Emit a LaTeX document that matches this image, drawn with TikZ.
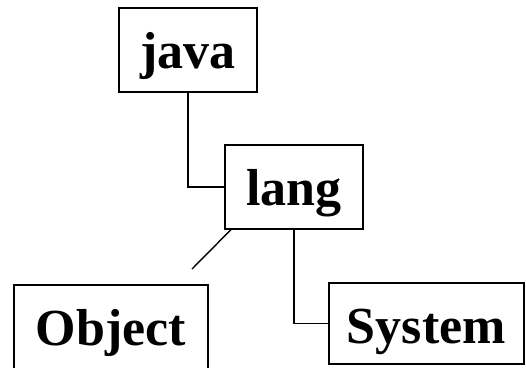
\documentclass[tikz,border=0pt]{standalone}
\usepackage{fontspec}
\setmainfont{Liberation Serif}
\begin{document}
\begin{tikzpicture}[x=1pt,y=-1pt,
  pkg/.style={draw=black, line width=1.6pt, anchor=north west, inner sep=0pt,
    text height=61pt, text depth=23pt, align=center,
    font=\bfseries\fontsize{52}{62}\selectfont},
  link/.style={draw=black, line width=1.4pt}]
  \clip (0,0) rectangle (526,367);
  \fill[white] (0,0) rectangle (526,367);
  % package boxes
  \node[pkg, minimum width=138pt] (java) at (118,7) {java};
  \node[pkg, minimum width=138pt] (lang) at (224,144) {lang};
  \node[pkg, minimum width=194pt, text depth=80pt] (object) at (13,284) {Object};
  \node[pkg, minimum width=195pt, text depth=20pt] (system) at (328,282) {System};
  % connectors
  \coordinate (stub) at (192,269);
  \draw[link] (java.south) |- (lang.west);
  \draw[link] (lang.south) |- (system.west);
  \draw[link] ([xshift=7pt]lang.south west) -- (stub);
\end{tikzpicture}
\end{document}
